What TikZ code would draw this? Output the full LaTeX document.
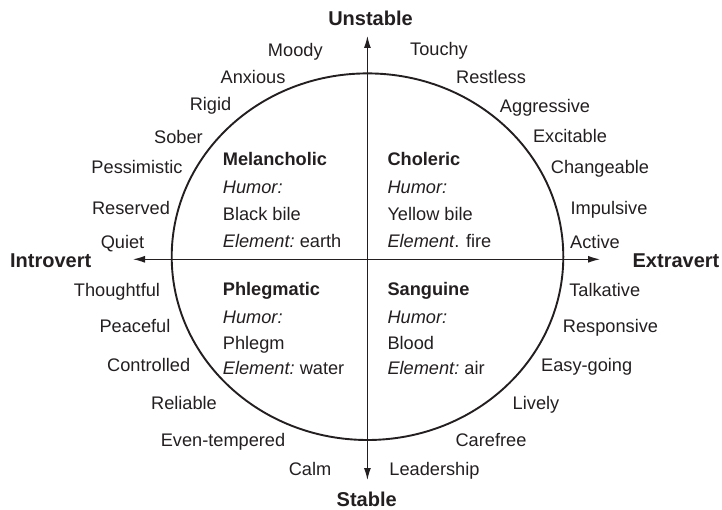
\documentclass[tikz,border=0pt]{standalone}
\usepackage{fontspec}
\setmainfont{Liberation Sans}
\usetikzlibrary{arrows.meta}
\definecolor{ink}{HTML}{231F20}
\tikzset{
  trait/.style={anchor=base, inner sep=0pt, text=ink, font=\fontsize{18.2}{21}\selectfont},
  qline/.style={anchor=base west, inner sep=0pt, text=ink, font=\fontsize{18.2}{21}\selectfont},
  qhead/.style={qline, font=\fontsize{18.2}{21}\selectfont\bfseries},
  axislabel/.style={anchor=base, inner sep=0pt, text=ink, font=\fontsize{20}{24}\selectfont\bfseries},
  axisline/.style={draw=ink, line width=1.2pt, -{Latex[length=12pt,width=7pt]}},
  rim/.style={draw=ink, line width=1.9pt}
}
\begin{document}
\begin{tikzpicture}[x=1pt, y=-1pt]
\useasboundingbox (0,0) rectangle (722,510);

% temperament ellipse
\draw[rim] (367.5,256.7) ellipse [x radius=195.8, y radius=183.3];

% axes
\coordinate (o) at (367.4,259.3);
\coordinate (up) at (367.4,36);
\coordinate (down) at (367.4,480);
\coordinate (left) at (133,259.3);
\coordinate (right) at (600,259.3);
\draw[axisline] (o) -- (up);
\draw[axisline] (o) -- (down);
\draw[axisline] (o) -- (left);
\draw[axisline] (o) -- (right);

% axis labels
\node[axislabel] (unstable) at (370.5,25.7) {Unstable};
\node[axislabel] (stable) at (366.7,506) {Stable};
\node[axislabel] (introvert) at (50.7,267.3) {Introvert};
\node[axislabel] (extravert) at (676,267.3) {Extravert};

% traits, upper left
\node[trait] (moody) at (295.3,56.7) {Moody};
\node[trait] (anxious) at (253,83.3) {Anxious};
\node[trait] (rigid) at (210.5,111) {Rigid};
\node[trait] (sober) at (178.5,143.3) {Sober};
\node[trait] (pessimistic) at (137,174) {Pessimistic};
\node[trait] (reserved) at (131,214.3) {Reserved};
\node[trait] (quiet) at (122.5,248.3) {Quiet};

% traits, upper right
\node[trait] (touchy) at (439,56) {Touchy};
\node[trait] (restless) at (491,83.3) {Restless};
\node[trait] (aggressive) at (545,112.7) {Aggressive};
\node[trait] (excitable) at (570,142.7) {Excitable};
\node[trait] (changeable) at (600,173.3) {Changeable};
\node[trait] (impulsive) at (609,214.3) {Impulsive};
\node[trait] (active) at (595,248.3) {Active};

% traits, lower left
\node[trait] (thoughtful) at (117,296.7) {Thoughtful};
\node[trait] (peaceful) at (135,332.7) {Peaceful};
\node[trait] (controlled) at (148.7,371.7) {Controlled};
\node[trait] (reliable) at (184,409.3) {Reliable};
\node[trait] (eventempered) at (223,446) {Even-tempered};
\node[trait] (calm) at (310,475) {Calm};

% traits, lower right
\node[trait] (talkative) at (604.7,296.7) {Talkative};
\node[trait] (responsive) at (610.5,332.7) {Responsive};
\node[trait] (easygoing) at (586.7,371.7) {Easy-going};
\node[trait] (lively) at (536,409.3) {Lively};
\node[trait] (carefree) at (491,446) {Carefree};
\node[trait] (leadership) at (434.5,475) {Leadership};

% Melancholic quadrant
\node[qhead] (melH) at (222.7,166) {Melancholic};
\node[qline] (melA) at (222.7,193.3) {\itshape Humor:};
\node[qline] (melB) at (222.7,220.5) {Black bile};
\node[qline] (melC) at (222.7,247.5) {\itshape Element:\upshape\ earth};

% Choleric quadrant
\node[qhead] (chH) at (387.3,166) {Choleric};
\node[qline] (chA) at (387.3,193.3) {\itshape Humor:};
\node[qline] (chB) at (387.3,220.5) {Yellow bile};
\node[qline] (chC) at (387.3,247.5) {\itshape Element\upshape. fire};

% Phlegmatic quadrant
\node[qhead] (phH) at (222.7,296) {Phlegmatic};
\node[qline] (phA) at (222.7,323.3) {\itshape Humor:};
\node[qline] (phB) at (222.7,349.5) {Phlegm};
\node[qline] (phC) at (222.7,374) {\itshape Element:\upshape\ water};

% Sanguine quadrant
\node[qhead] (saH) at (387.3,296) {Sanguine};
\node[qline] (saA) at (387.3,323.3) {\itshape Humor:};
\node[qline] (saB) at (387.3,349.5) {Blood};
\node[qline] (saC) at (387.3,374) {\itshape Element:\upshape\ air};
\end{tikzpicture}
\end{document}
